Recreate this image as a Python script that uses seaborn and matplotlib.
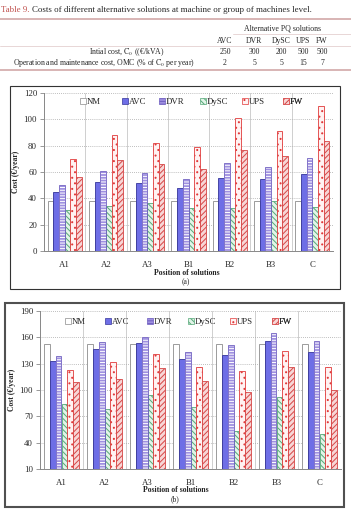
import numpy as np
import pandas as pd
import matplotlib
matplotlib.use('Agg')
import matplotlib.pyplot as plt
import seaborn as sns
from matplotlib.patches import Rectangle, Patch
from matplotlib.lines import Line2D

# categories
positions = ['A1', 'A2', 'A3', 'B1', 'B2', 'B3', 'C']
solutions = ['NM', 'AVC', 'DVR', 'DySC', 'UPS', 'FW']

# chart (a) - cost per year
nm_a = [38, 38, 38, 38, 38, 38, 38]
avc_a = [44.5, 52.5, 52, 47.5, 55.5, 55, 58.5]
dvr_a = [50.5, 61, 59.5, 55, 66.5, 63.5, 71]
dysc_a = [31.5, 34.5, 36.5, 33, 32.5, 38, 33.5]
ups_a = [70, 88, 82, 79, 101, 91, 110]
fw_a = [56.5, 69, 66, 62.5, 77, 72, 83.5]

# chart (b) - cost per year
nm_b = [152, 152, 152, 152, 152, 152, 152]
avc_b = [132.5, 147, 153, 135.5, 140, 156, 143.5]
dvr_b = [139, 155, 160.5, 143, 151, 165, 156]
dysc_b = [84, 78.5, 94.5, 81, 53.5, 91.5, 50]
ups_b = [122.5, 132, 140.5, 126.5, 121.5, 145, 126]
fw_b = [109, 113, 124.5, 110.5, 98, 126.5, 99.5]

# table 9
table_cols = ['AVC', 'DVR', 'DySC', 'UPS', 'FW']
initial_cost = [250, 300, 200, 500, 500]
omc_pct = [2, 5, 5, 15, 7]

W, H = 351, 512
sns.set_theme(style='white')
plt.rcParams['font.family'] = ['Liberation Serif', 'DejaVu Serif']
plt.rcParams['mathtext.fontset'] = 'stix'
plt.rcParams['hatch.linewidth'] = 0.7

fill = {'NM': 'white', 'AVC': '#6E6EE6', 'DVR': '#9F90E0', 'DySC': '#E2F4E8',
        'UPS': '#FFF2F2', 'FW': '#F7D6D6'}
edge = {'NM': '#8C8C8C', 'AVC': '#34349A', 'DVR': 'white', 'DySC': '#55A878',
        'UPS': '#E03A3A', 'FW': '#D64646'}
hatch = {'NM': '', 'AVC': '', 'DVR': '------', 'DySC': '\\\\\\\\\\\\',
         'UPS': '...', 'FW': '//////'}


def fx(x):
    return x / W


def fy(y):
    return 1 - y / H


fig = plt.figure(figsize=(W / 100, H / 100), dpi=100)


def draw_chart(rect, values, ylim, yticks, legend_x, legend_y):
    ax = fig.add_axes(rect)
    df = pd.DataFrame({'position': np.tile(positions, len(solutions)),
                       'solution': np.repeat(solutions, len(positions)),
                       'cost': np.concatenate(values)})
    sns.barplot(data=df, x='position', y='cost', hue='solution', order=positions,
                hue_order=solutions, palette=fill, saturation=1, width=0.83, gap=0,
                errorbar=None, legend=False, ax=ax)
    for name, cont in zip(solutions, ax.containers):
        for bar in cont:
            bar.set_facecolor(fill[name])
            bar.set_edgecolor(edge[name])
            bar.set_hatch(hatch[name])
            bar.set_linewidth(0.6)
            if name == 'DVR':
                ax.add_patch(Rectangle(bar.get_xy(), bar.get_width(), bar.get_height(),
                                       fill=False, ec='#6E5EC0', lw=0.6))
    ax.set_xlim(-0.5, 6.5)
    ax.set_ylim(*ylim)
    ax.set_yticks(yticks)
    ax.set_xticks(np.arange(-0.5, 7, 1), minor=True)
    ax.set_axisbelow(True)
    ax.grid(True, which='minor', axis='x', color='#C8C8C8', lw=0.6)
    ax.grid(True, which='major', axis='y', color='#A8A8A8', ls=(0, (1, 1.5)), lw=0.6)
    ax.grid(False, which='major', axis='x')
    ax.tick_params(axis='x', which='major', length=0, pad=7, labelsize=6.3)
    ax.tick_params(axis='x', which='minor', length=3, width=0.6, color='#888888')
    ax.tick_params(axis='y', length=3, width=0.6, color='#888888', pad=2, labelsize=6.3,
                   left=True)
    for s in ['top', 'right']:
        ax.spines[s].set_visible(False)
    for s in ['left', 'bottom']:
        ax.spines[s].set_color('#888888')
        ax.spines[s].set_linewidth(0.7)
    ax.set_xlabel('')
    ax.set_ylabel('')
    for name, lx in zip(solutions, legend_x):
        h = Patch(facecolor=fill[name], edgecolor=edge[name] if name != 'DVR' else '#6E5EC0',
                  hatch=hatch[name], lw=0.5)
        leg = ax.legend([h], [name], loc='center left', bbox_to_anchor=(lx, legend_y),
                        frameon=False, handlelength=0.65, handleheight=0.65,
                        handletextpad=0.1, borderpad=0, borderaxespad=0, fontsize=6.3)
        ax.add_artist(leg)
    return ax


# chart (a)
ax_a = draw_chart([fx(44), fy(251), 289 / W, 158 / H],
                  [nm_a, avc_a, dvr_a, dysc_a, ups_a, fw_a], (0, 120), np.arange(0, 121, 20),
                  [0.125, 0.27, 0.398, 0.54, 0.685, 0.827], 0.943)
fig.text(fx(16), fy(172), 'Cost (€/year)', rotation=90, ha='center', va='center',
         fontsize=5.5, fontweight='bold')
fig.text(fx(187), fy(273), 'Position of solutions', ha='center', va='center',
         fontsize=5.6, fontweight='bold')
fig.text(fx(186), fy(282), '(a)', ha='center', va='center', fontsize=5.5)
fig.patches.append(Rectangle((fx(10), fy(289)), 330 / W, 203 / H, fill=False,
                             ec='#333333', lw=0.8, transform=fig.transFigure))

# chart (b)
ax_b = draw_chart([fx(40), fy(469), 301 / W, 158 / H],
                  [nm_b, avc_b, dvr_b, dysc_b, ups_b, fw_b], (10, 190), np.arange(10, 191, 30),
                  [0.083, 0.216, 0.355, 0.492, 0.631, 0.771], 0.93)
fig.text(fx(12), fy(390), 'Cost (€/year)', rotation=90, ha='center', va='center',
         fontsize=5.5, fontweight='bold')
fig.text(fx(176), fy(490), 'Position of solutions', ha='center', va='center',
         fontsize=5.6, fontweight='bold')
fig.text(fx(175), fy(499), '(b)', ha='center', va='center', fontsize=5.5)
fig.patches.append(Rectangle((fx(5), fy(507)), 339 / W, 204 / H, fill=False,
                             ec='#505050', lw=1.5, transform=fig.transFigure))

# table 9
t1 = fig.text(fx(1), fy(10), 'Table 9.', color='#C0504D', fontsize=6.4, va='center')
fig.canvas.draw()
bb = t1.get_window_extent()
fig.text(bb.x1 / W + fx(2), fy(10),
         'Costs of different alternative solutions at machine or group of machines level.',
         fontsize=6.4, va='center')
line_kw = dict(transform=fig.transFigure)
fig.add_artist(Line2D([0, 1], [fy(19), fy(19)], color='#D2A8A8', lw=1.2, **line_kw))
fig.add_artist(Line2D([fx(233), 1], [fy(34), fy(34)], color='#E4D0D0', lw=0.6, **line_kw))
fig.add_artist(Line2D([0, 1], [fy(46), fy(46)], color='#E4D0D0', lw=0.6, **line_kw))
fig.add_artist(Line2D([0, 1], [fy(70), fy(70)], color='#D2A8A8', lw=1.2, **line_kw))
fig.text(fx(283), fy(28), 'Alternative PQ solutions', ha='center', va='center', fontsize=5.6)
col_x = [225, 254, 281, 303, 322]
for cx, name, c0, omc in zip(col_x, table_cols, initial_cost, omc_pct):
    fig.text(fx(cx), fy(41), name, ha='center', va='center', fontsize=5.6)
    fig.text(fx(cx), fy(52), str(c0), ha='center', va='center', fontsize=5.6)
    fig.text(fx(cx), fy(63), str(omc), ha='center', va='center', fontsize=5.6)
fig.text(fx(127), fy(52), r'Intial cost, $\mathrm{C}_0$ ((€/kVA)', ha='center', va='center',
         fontsize=5.6)
fig.text(fx(104), fy(63), r'Operation and maintenance cost, OMC (% of $\mathrm{C}_0$ per year)',
         ha='center', va='center', fontsize=5.6)

fig.savefig('out.png', dpi=100)
